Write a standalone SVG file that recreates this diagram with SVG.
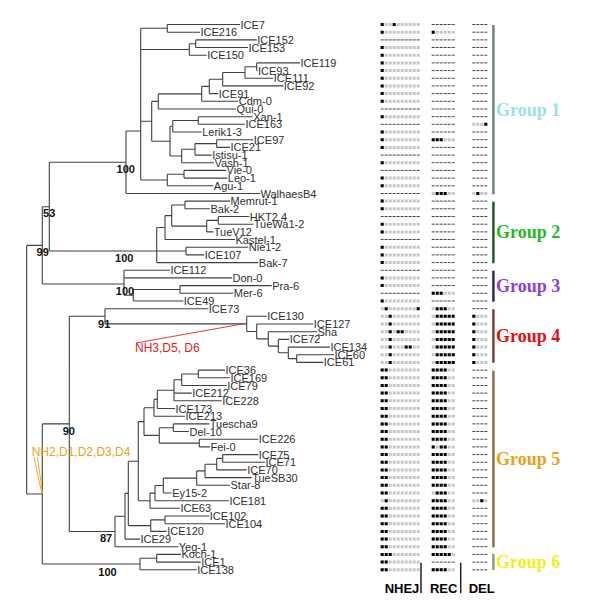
<svg xmlns="http://www.w3.org/2000/svg" width="600" height="604" viewBox="0 0 600 604">
<style>
.br{fill:none;stroke:#404040;stroke-width:1.1}
.lb{font:11px "Liberation Sans",Arial,sans-serif;fill:#2e2e2e}
.bs{font:bold 11px "Liberation Sans",Arial,sans-serif;fill:#111;text-anchor:middle}
.g{fill:none;stroke:#c6c6c6;stroke-width:3;stroke-dasharray:3 1}
.k{fill:none;stroke:#000;stroke-width:3;stroke-dasharray:3 1}
.d{fill:none;stroke:#444;stroke-width:1;stroke-dasharray:3 1}
.grp{font:bold 18px "Liberation Serif","Times New Roman",serif}
.col{font:bold 13px "Liberation Sans",Arial,sans-serif;fill:#000;text-anchor:middle}
</style>
<rect width="600" height="604" fill="#fff"/>
<g id="connectors">
<path class="br" d="M26.7 245.4V494M26.7 245.4H42.3M26.7 494H42.3
M42.3 206.7V284M42.3 206.7H49.3M42.3 284H124
M49.3 162.3V251M49.3 162.3H126M49.3 251H186
M126 131V193.5M126 131H140.7M126 193.5H260
M140.7 28.3V180M140.7 28.3H167.3M140.7 49.5H189.3M140.7 121.3H151.7M140.7 180H167.3
M167.3 24.5V32.2M167.3 24.5H240M167.3 32.2H200
M189.3 43.7V55.2M189.3 43.7H195.7M189.3 55.2H206.7
M195.7 39.9V47.5M195.7 39.9H256.7M195.7 47.5H248
M151.7 101.4V141.2M151.7 101.4H158.3M151.7 141.2H170
M158.3 93.9V109M158.3 93.9H201.7M158.3 109H236
M201.7 86.4V101.3M201.7 86.4H209.3M201.7 101.3H238.3
M209.3 79.2V93.6M209.3 79.2H222.7M209.3 93.6H218.3
M222.7 72.5V85.9M222.7 72.5H245M222.7 85.9H283.3
M245 66.8V78.3M245 66.8H256.7M245 78.3H273.3
M256.7 62.9V70.6M256.7 62.9H300M256.7 70.6H257.5
M170 126.3V156M170 126.3H172.7M170 156H181.7
M172.7 120.5V132M172.7 120.5H198.3M172.7 132H201.7
M198.3 116.7V124.3M198.3 116.7H252.7M198.3 124.3H245
M181.7 149.3V162.7M181.7 149.3H195M181.7 162.7H214
M195 143.6V155.1M195 143.6H216.7M195 155.1H211.7
M216.7 139.7V147.4M216.7 139.7H253.3M216.7 147.4H230
M167.3 174.3V185.8M167.3 174.3H184M167.3 185.8H213.3
M184 170.4V178.1M184 170.4H226M184 178.1H227.3
M156.7 227.5V262.6M156.7 227.5H165M156.7 262.6H258.3
M165 215.6V239.5M165 215.6H171.7M165 239.5H235
M171.7 205V226.1M171.7 205H185M171.7 226.1H206.7
M185 201.1V208.8M185 201.1H230M185 208.8H210
M206.7 220.4V231.9M206.7 220.4H218.3M206.7 231.9H213.3
M218.3 216.5V224.2M218.3 216.5H249.3M218.3 224.2H253.3
M186 247.2V254.9M186 247.2H248.3M186 254.9H204.3
M124 270.3V295.2M124 270.3H170M124 277.9H232M124 295.2H133.3
M133.3 289.5V301M133.3 289.5H180M133.3 301H183.3
M180 285.6V293.3M180 285.6H271.7M180 293.3H233.3
M42.3 423.9V564M42.3 423.9H69.3M42.3 564H140
M69.3 316.3V531.5M69.3 316.3H105M69.3 531.5H115
M105 308.7V323.9M105 308.7H208.3M105 323.9H246.7
M246.7 316.3V331.5M246.7 316.3H266.7M246.7 331.5H256.7
M256.7 324V338.9M256.7 324H313.3M256.7 338.9H268.3
M268.3 331.7V346.1M268.3 331.7H317M268.3 346.1H278.3
M278.3 339.4V352.8M278.3 339.4H289.3M278.3 352.8H288.3
M288.3 347.1V358.6M288.3 347.1H330M288.3 358.6H296.7
M296.7 354.7V362.4M296.7 354.7H334M296.7 362.4H323.3
M115 516.2V546.7M115 516.2H125M115 546.7H178.3
M125 493.4V539.1M125 493.4H128.3M125 539.1H140
M128.3 461.2V525.6M128.3 461.2H138.3M128.3 525.6H150.7
M150.7 519.9V531.4M150.7 519.9H165M150.7 531.4H166.7
M165 516V523.7M165 516H209.3M165 523.7H225
M138.3 421.6V500.7M138.3 421.6H144M138.3 500.7H150
M150 493.1V508.3M150 493.1H155M150 508.3H180
M155 485.5V500.7M155 485.5H163.3M155 500.7H229
M163.3 478.1V493M163.3 478.1H196.7M163.3 493H171.7
M196.7 470.9V485.3M196.7 470.9H205M196.7 485.3H230
M205 464.2V477.6M205 464.2H216.7M205 477.6H251.7
M216.7 458.4V469.9M216.7 458.4H222.7M216.7 469.9H246.7
M222.7 454.6V462.3M222.7 454.6H258.3M222.7 462.3H265
M144 407.8V435.4M144 407.8H154M144 435.4H159.3
M159.3 427.7V443.1M159.3 427.7H173.3M159.3 443.1H199.3
M173.3 423.9V431.5M173.3 423.9H209.3M173.3 431.5H189
M199.3 439.2V446.9M199.3 439.2H258.3M199.3 446.9H210
M154 399.4V416.2M154 399.4H157.3M154 416.2H185
M157.3 390.3V408.5M157.3 390.3H174M157.3 408.5H175
M174 379.7V400.8M174 379.7H181.7M174 393.1H191.7M174 400.8H221.7
M181.7 374V385.5M181.7 374H198.3M181.7 385.5H226.7
M198.3 370.1V377.8M198.3 370.1H225M198.3 377.8H230
M140 558.3V569.8M140 558.3H156.7M140 569.8H196.7
M156.7 554.4V562.1M156.7 554.4H181M156.7 562.1H200.7"/>
<path d="M136 343L246.7 323.2" fill="none" stroke="#e02020" stroke-width="0.9"/>
<path d="M34 457L41.8 493.5M37.5 457L42.6 493.5" fill="none" stroke="#e8a020" stroke-width="0.9"/>
</g>
<g id="bootstrap">
<text class="bs" x="125.8" y="173.3">100</text>
<text class="bs" x="49.2" y="217.3">53</text>
<text class="bs" x="42.7" y="255.7">99</text>
<text class="bs" x="124.2" y="261.7">100</text>
<text class="bs" x="125" y="294.7">100</text>
<text class="bs" x="104.2" y="328">91</text>
<text class="bs" x="68.8" y="435">90</text>
<text class="bs" x="106" y="542.3">87</text>
<text class="bs" x="107.5" y="575.7">100</text>
</g>
<g id="annotations">
<text x="135" y="352.3" style="font:12px 'Liberation Sans',Arial,sans-serif;fill:#e02020">NH3,D5, D6</text>
<text x="31.7" y="455.8" style="font:12px 'Liberation Sans',Arial,sans-serif;fill:#e8a020">NH2,D1,D2,D3,D4</text>
</g>
<g id="taxa">
<g id="t0"><text class="lb" x="240.5" y="28.5">ICE7</text></g>
<g id="t1"><text class="lb" x="200.5" y="36.2">ICE216</text></g>
<g id="t2"><text class="lb" x="257.2" y="43.9">ICE152</text></g>
<g id="t3"><text class="lb" x="248.5" y="51.5">ICE153</text></g>
<g id="t4"><text class="lb" x="207.2" y="59.2">ICE150</text></g>
<g id="t5"><text class="lb" x="300.5" y="66.9">ICE119</text></g>
<g id="t6"><text class="lb" x="258" y="74.6">ICE93</text></g>
<g id="t7"><text class="lb" x="273.8" y="82.3">ICE111</text></g>
<g id="t8"><text class="lb" x="283.8" y="89.9">ICE92</text></g>
<g id="t9"><text class="lb" x="218.8" y="97.6">ICE91</text></g>
<g id="t10"><text class="lb" x="238.8" y="105.3">Cdm-0</text></g>
<g id="t11"><text class="lb" x="236.5" y="113">Qui-0</text></g>
<g id="t12"><text class="lb" x="253.2" y="120.7">Xan-1</text></g>
<g id="t13"><text class="lb" x="245.5" y="128.3">ICE163</text></g>
<g id="t14"><text class="lb" x="202.2" y="136">Lerik1-3</text></g>
<g id="t15"><text class="lb" x="253.8" y="143.7">ICE97</text></g>
<g id="t16"><text class="lb" x="230.5" y="151.4">ICE21</text></g>
<g id="t17"><text class="lb" x="212.2" y="159.1">Istisu-1</text></g>
<g id="t18"><text class="lb" x="214.5" y="166.7">Vash-1</text></g>
<g id="t19"><text class="lb" x="226.5" y="174.4">Vie-0</text></g>
<g id="t20"><text class="lb" x="227.8" y="182.1">Leo-1</text></g>
<g id="t21"><text class="lb" x="213.8" y="189.8">Agu-1</text></g>
<g id="t22"><text class="lb" x="260.5" y="197.5">WalhaesB4</text></g>
<g id="t23"><text class="lb" x="230.5" y="205.1">Memrut-1</text></g>
<g id="t24"><text class="lb" x="210.5" y="212.8">Bak-2</text></g>
<g id="t25"><text class="lb" x="249.8" y="220.5">HKT2.4</text></g>
<g id="t26"><text class="lb" x="253.8" y="228.2">TueWa1-2</text></g>
<g id="t27"><text class="lb" x="213.8" y="235.9">TueV12</text></g>
<g id="t28"><text class="lb" x="235.5" y="243.5">Kastel-1</text></g>
<g id="t29"><text class="lb" x="248.8" y="251.2">Nie1-2</text></g>
<g id="t30"><text class="lb" x="204.8" y="258.9">ICE107</text></g>
<g id="t31"><text class="lb" x="258.8" y="266.6">Bak-7</text></g>
<g id="t32"><text class="lb" x="170.5" y="274.3">ICE112</text></g>
<g id="t33"><text class="lb" x="232.5" y="281.9">Don-0</text></g>
<g id="t34"><text class="lb" x="272.2" y="289.6">Pra-6</text></g>
<g id="t35"><text class="lb" x="233.8" y="297.3">Mer-6</text></g>
<g id="t36"><text class="lb" x="183.8" y="305">ICE49</text></g>
<g id="t37"><text class="lb" x="208.8" y="312.7">ICE73</text></g>
<g id="t38"><text class="lb" x="267.2" y="320.3">ICE130</text></g>
<g id="t39"><text class="lb" x="313.8" y="328">ICE127</text></g>
<g id="t40"><text class="lb" x="317.5" y="335.7">Sha</text></g>
<g id="t41"><text class="lb" x="289.8" y="343.4">ICE72</text></g>
<g id="t42"><text class="lb" x="330.5" y="351.1">ICE134</text></g>
<g id="t43"><text class="lb" x="334.5" y="358.7">ICE60</text></g>
<g id="t44"><text class="lb" x="323.8" y="366.4">ICE61</text></g>
<g id="t45"><text class="lb" x="225.5" y="374.1">ICE36</text></g>
<g id="t46"><text class="lb" x="230.5" y="381.8">ICE169</text></g>
<g id="t47"><text class="lb" x="227.2" y="389.5">ICE79</text></g>
<g id="t48"><text class="lb" x="192.2" y="397.1">ICE212</text></g>
<g id="t49"><text class="lb" x="222.2" y="404.8">ICE228</text></g>
<g id="t50"><text class="lb" x="175.5" y="412.5">ICE173</text></g>
<g id="t51"><text class="lb" x="185.5" y="420.2">ICE213</text></g>
<g id="t52"><text class="lb" x="209.8" y="427.9">Tuescha9</text></g>
<g id="t53"><text class="lb" x="189.5" y="435.5">Del-10</text></g>
<g id="t54"><text class="lb" x="258.8" y="443.2">ICE226</text></g>
<g id="t55"><text class="lb" x="210.5" y="450.9">Fei-0</text></g>
<g id="t56"><text class="lb" x="258.8" y="458.6">ICE75</text></g>
<g id="t57"><text class="lb" x="265.5" y="466.3">ICE71</text></g>
<g id="t58"><text class="lb" x="247.2" y="473.9">ICE70</text></g>
<g id="t59"><text class="lb" x="252.2" y="481.6">TueSB30</text></g>
<g id="t60"><text class="lb" x="230.5" y="489.3">Star-8</text></g>
<g id="t61"><text class="lb" x="172.2" y="497">Ey15-2</text></g>
<g id="t62"><text class="lb" x="229.5" y="504.7">ICE181</text></g>
<g id="t63"><text class="lb" x="180.5" y="512.3">ICE63</text></g>
<g id="t64"><text class="lb" x="209.8" y="520">ICE102</text></g>
<g id="t65"><text class="lb" x="225.5" y="527.7">ICE104</text></g>
<g id="t66"><text class="lb" x="167.2" y="535.4">ICE120</text></g>
<g id="t67"><text class="lb" x="140.5" y="543.1">ICE29</text></g>
<g id="t68"><text class="lb" x="178.8" y="550.7">Yeg-1</text></g>
<g id="t69"><text class="lb" x="181.5" y="558.4">Koch-1</text></g>
<g id="t70"><text class="lb" x="201.2" y="566.1">ICE1</text></g>
<g id="t71"><text class="lb" x="197.2" y="573.8">ICE138</text></g>
</g>
<g id="matrix">
<path class="g" d="M380.7 24.5h40M380.7 32.2h40M380.7 47.5h40M380.7 55.2h40M380.7 62.9h40M380.7 70.6h40M380.7 78.3h40M380.7 85.9h40M380.7 93.6h40M380.7 101.3h40M380.7 116.7h40M380.7 132h40M380.7 139.7h40M380.7 147.4h40M380.7 162.7h40M380.7 178.1h40M380.7 185.8h40M380.7 201.1h40M380.7 208.8h40M380.7 224.2h40M380.7 231.9h40M380.7 247.2h40M380.7 254.9h40M380.7 262.6h40M380.7 277.9h40M380.7 285.6h40M380.7 301h40
M380.7 308.7h40M380.7 316.3h40M380.7 324h40M380.7 331.7h40M380.7 339.4h40M380.7 347.1h40M380.7 354.7h40M380.7 362.4h40M380.7 370.1h40M380.7 377.8h40M380.7 385.5h40M380.7 393.1h40M380.7 400.8h40M380.7 408.5h40M380.7 416.2h40M380.7 423.9h40M380.7 431.5h40M380.7 439.2h40M380.7 446.9h40M380.7 454.6h40M380.7 462.3h40M380.7 469.9h40M380.7 477.6h40M380.7 485.3h40M380.7 493h40M380.7 500.7h40M380.7 508.3h40M380.7 516h40M380.7 523.7h40M380.7 531.4h40M380.7 539.1h40M380.7 546.7h40M380.7 554.4h40M380.7 562.1h40M380.7 569.8h40
M431.7 32.2h24M431.7 139.7h24M431.7 193.5h24M431.7 293.3h24
M431.7 308.7h24M431.7 316.3h24M431.7 324h24M431.7 331.7h24M431.7 339.4h24M431.7 347.1h24M431.7 354.7h24M431.7 362.4h24M431.7 370.1h24M431.7 377.8h24M431.7 385.5h24M431.7 393.1h24M431.7 400.8h24M431.7 408.5h24M431.7 416.2h24M431.7 423.9h24M431.7 431.5h24M431.7 439.2h24M431.7 446.9h24M431.7 454.6h24M431.7 462.3h24M431.7 469.9h24M431.7 477.6h24M431.7 485.3h24M431.7 493h24M431.7 500.7h24M431.7 508.3h24M431.7 516h24M431.7 523.7h24M431.7 531.4h24M431.7 539.1h24M431.7 546.7h24M431.7 554.4h24M431.7 569.8h24
M472.3 124.3h16M472.3 193.5h16M472.3 316.3h16M472.3 324h16M472.3 331.7h16M472.3 339.4h16M472.3 347.1h16M472.3 354.7h16M472.3 362.4h16M472.3 500.7h16"/>
<path class="d" d="M380.7 39.9h40M380.7 109h40M380.7 124.3h40M380.7 155.1h40M380.7 170.4h40M380.7 193.5h40M380.7 216.5h40M380.7 239.5h40M380.7 270.3h40M380.7 293.3h40
M431.7 24.5h24M431.7 39.9h24M431.7 47.5h24M431.7 55.2h24M431.7 62.9h24M431.7 70.6h24M431.7 78.3h24M431.7 85.9h24M431.7 93.6h24M431.7 101.3h24M431.7 109h24M431.7 116.7h24M431.7 124.3h24M431.7 132h24M431.7 147.4h24M431.7 155.1h24M431.7 162.7h24M431.7 170.4h24M431.7 178.1h24M431.7 185.8h24M431.7 201.1h24M431.7 208.8h24M431.7 216.5h24M431.7 224.2h24M431.7 231.9h24M431.7 239.5h24M431.7 247.2h24M431.7 254.9h24M431.7 262.6h24M431.7 270.3h24M431.7 277.9h24M431.7 285.6h24M431.7 301h24M431.7 562.1h24
M472.3 24.5h16M472.3 32.2h16M472.3 39.9h16M472.3 47.5h16M472.3 55.2h16M472.3 62.9h16M472.3 70.6h16M472.3 78.3h16M472.3 85.9h16M472.3 93.6h16M472.3 101.3h16M472.3 109h16M472.3 116.7h16M472.3 132h16M472.3 139.7h16M472.3 147.4h16M472.3 155.1h16M472.3 162.7h16M472.3 170.4h16M472.3 178.1h16M472.3 185.8h16M472.3 201.1h16M472.3 208.8h16M472.3 216.5h16M472.3 224.2h16M472.3 231.9h16M472.3 239.5h16M472.3 247.2h16M472.3 254.9h16M472.3 262.6h16M472.3 270.3h16M472.3 277.9h16M472.3 285.6h16M472.3 293.3h16M472.3 301h16M472.3 308.7h16
M472.3 370.1h16M472.3 377.8h16M472.3 385.5h16M472.3 393.1h16M472.3 400.8h16M472.3 408.5h16M472.3 416.2h16M472.3 423.9h16M472.3 431.5h16M472.3 439.2h16M472.3 446.9h16M472.3 454.6h16M472.3 462.3h16M472.3 469.9h16M472.3 477.6h16M472.3 485.3h16M472.3 493h16M472.3 508.3h16M472.3 516h16M472.3 523.7h16M472.3 531.4h16M472.3 539.1h16M472.3 546.7h16M472.3 554.4h16M472.3 562.1h16M472.3 569.8h16"/>
<path class="k" d="M380.7 24.5h4M392.7 24.5h4M380.7 32.2h4M431.7 32.2h4
M380.7 47.5h4M380.7 55.2h4M380.7 62.9h4M380.7 70.6h4M380.7 78.3h4M380.7 85.9h4M380.7 93.6h4M380.7 101.3h4M380.7 116.7h4M380.7 132h4M380.7 139.7h4M380.7 147.4h4M380.7 162.7h4M380.7 178.1h4M380.7 185.8h4M380.7 201.1h4M380.7 208.8h4M380.7 224.2h4M380.7 231.9h4M380.7 247.2h4M380.7 254.9h4M380.7 262.6h4M380.7 277.9h4M380.7 285.6h4M380.7 301h4
M484.3 124.3h4M431.7 139.7h12M435.7 193.5h12M476.3 193.5h4M431.7 293.3h12
M384.7 308.7h4M416.7 308.7h4M435.7 308.7h12
M388.7 316.3h4M388.7 324h4M388.7 331.7h4M396.7 331.7h8M388.7 339.4h4M388.7 347.1h4M404.7 347.1h8M388.7 354.7h4M388.7 362.4h4
M435.7 316.3h20M435.7 324h20M435.7 331.7h20M435.7 339.4h20M435.7 347.1h20M435.7 354.7h20M435.7 362.4h20
M472.3 316.3h4M472.3 324h4M472.3 331.7h4M472.3 339.4h4M472.3 347.1h4M472.3 354.7h4M472.3 362.4h4
M380.7 370.1h8M380.7 377.8h8M380.7 385.5h8M380.7 393.1h8M380.7 400.8h8M380.7 408.5h8M380.7 416.2h8M380.7 423.9h8M380.7 431.5h8M380.7 439.2h8M380.7 446.9h8M380.7 454.6h8M380.7 462.3h8M380.7 469.9h8M380.7 477.6h8M380.7 485.3h8M380.7 493h8M384.7 500.7h4M380.7 508.3h8M380.7 516h8M380.7 523.7h8M380.7 531.4h8M380.7 539.1h8M380.7 546.7h8M380.7 554.4h12M380.7 562.1h8M380.7 569.8h8
M431.7 370.1h16M431.7 377.8h16M431.7 385.5h16M431.7 393.1h16M431.7 400.8h16M431.7 408.5h16M431.7 416.2h16M431.7 423.9h16M431.7 431.5h16M431.7 439.2h16M431.7 446.9h4M439.7 446.9h8M431.7 454.6h16M431.7 462.3h16M431.7 469.9h16M431.7 477.6h16M431.7 485.3h16M435.7 493h12M431.7 500.7h16M431.7 508.3h16M431.7 516h16M431.7 523.7h16M431.7 531.4h16M431.7 539.1h16M431.7 546.7h16M431.7 554.4h20M431.7 569.8h16
M480.3 500.7h4"/>
</g>
<g id="columns">
<path d="M421 562.7V593.3M460.7 562.7V593.3" stroke="#222" stroke-width="1.5"/>
<text class="col" x="402" y="593.3">NHEJ</text>
<text class="col" x="443.7" y="593.3">REC</text>
<text class="col" x="481.7" y="593.3">DEL</text>
</g>
<g id="group1"><rect x="492.2" y="25" width="2.4" height="169.3" fill="#6d7d7d"/><text class="grp" x="496" y="115.7" fill="#9ddfe8">Group 1</text></g>
<g id="group2"><rect x="492.2" y="201.7" width="2.4" height="61.6" fill="#1d561d"/><text class="grp" x="496" y="238.3" fill="#22bb22">Group 2</text></g>
<g id="group3"><rect x="492.2" y="270.7" width="2.4" height="31" fill="#2b1f5e"/><text class="grp" x="496" y="291.5" fill="#8a40e0">Group 3</text></g>
<g id="group4"><rect x="492.2" y="309.3" width="2.4" height="53.4" fill="#7d3b3b"/><text class="grp" x="496" y="341.7" fill="#e01010">Group 4</text></g>
<g id="group5"><rect x="492.2" y="370.7" width="2.4" height="176.6" fill="#8b6b47"/><text class="grp" x="496" y="465" fill="#e8a020">Group 5</text></g>
<g id="group6"><rect x="492.2" y="554" width="2.4" height="16" fill="#8b9870"/><text class="grp" x="496" y="568.3" fill="#f0f020">Group 6</text></g>
</svg>
